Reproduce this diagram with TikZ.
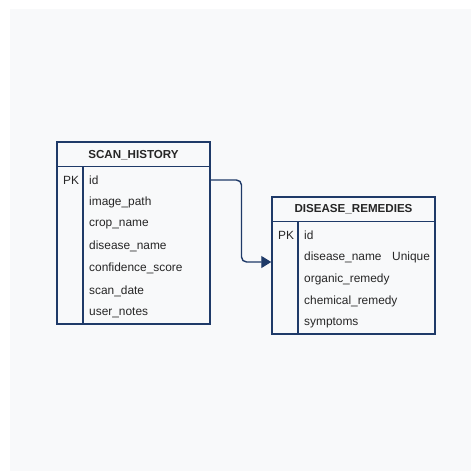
\documentclass[tikz,border=0pt]{standalone}
\usepackage{fontspec}
\setmainfont{Liberation Sans}
\usetikzlibrary{positioning,calc,arrows.meta}
\definecolor{navy}{HTML}{1F3A68}
\definecolor{ink}{HTML}{262626}
\definecolor{paper}{HTML}{F8F9FA}

\begin{document}
\begin{tikzpicture}[
    x=1pt, y=-1pt,
    table/.style={draw=navy, line width=1.5pt, rectangle, inner sep=0pt},
    title/.style={font=\fontsize{11.6}{13}\selectfont\bfseries, text=ink, inner sep=0pt},
    field/.style={font=\fontsize{11.9}{13}\selectfont, text=ink, anchor=west, inner sep=0pt},
    rule/.style={draw=navy, line width=1.5pt},
    fk/.style={draw=navy, line width=1.4pt, rounded corners=5pt, -{Triangle[length=10pt, width=12pt]}}
]
    % Background
    \fill[white] (0,0) rectangle (473,471);
    \fill[paper] (10,9) rectangle (471,471);
    \useasboundingbox (0,0) rectangle (473,471);

    % Table scan_history
    \node[table, minimum width=153pt, minimum height=182pt] (sh) at (133.5,233) {};
    \node[title] (shtitle) at (133.5,155) {SCAN\_HISTORY};
    \draw[rule] ($(sh.north west)+(0,25)$) -- ($(sh.north east)+(0,25)$);
    \draw[rule] (83,167) -- (sh.south -| 83,0);
    \node[field] (shpk) at (63,180) {PK};
    \foreach \f [count=\i from 0] in {id,image\_path,crop\_name,disease\_name,confidence\_score,scan\_date,user\_notes}
        \node[field] (shrow\i) at (89,180+22.2*\i) {\f};

    % Table disease_remedies
    \node[table, minimum width=163pt, minimum height=137pt] (dr) at (353.5,265.5) {};
    \node[title] (drtitle) at (353.5,209) {DISEASE\_REMEDIES};
    \draw[rule] ($(dr.north west)+(0,25)$) -- ($(dr.north east)+(0,25)$);
    \draw[rule] (298,222) -- (dr.south -| 298,0);
    \node[field] (drpk) at (278,235) {PK};
    \foreach \f [count=\i from 0] in {id,disease\_name,organic\_remedy,chemical\_remedy,symptoms}
        \node[field] (drrow\i) at (304,235+22*\i) {\f};
    \node[field] (drunique) at (392,257) {Unique};

    % Relation
    \draw[fk] (sh.east |- shrow0) -- (241.5,180) -- (241.5,262) -- (dr.west |- 0,262);
\end{tikzpicture}
\end{document}
